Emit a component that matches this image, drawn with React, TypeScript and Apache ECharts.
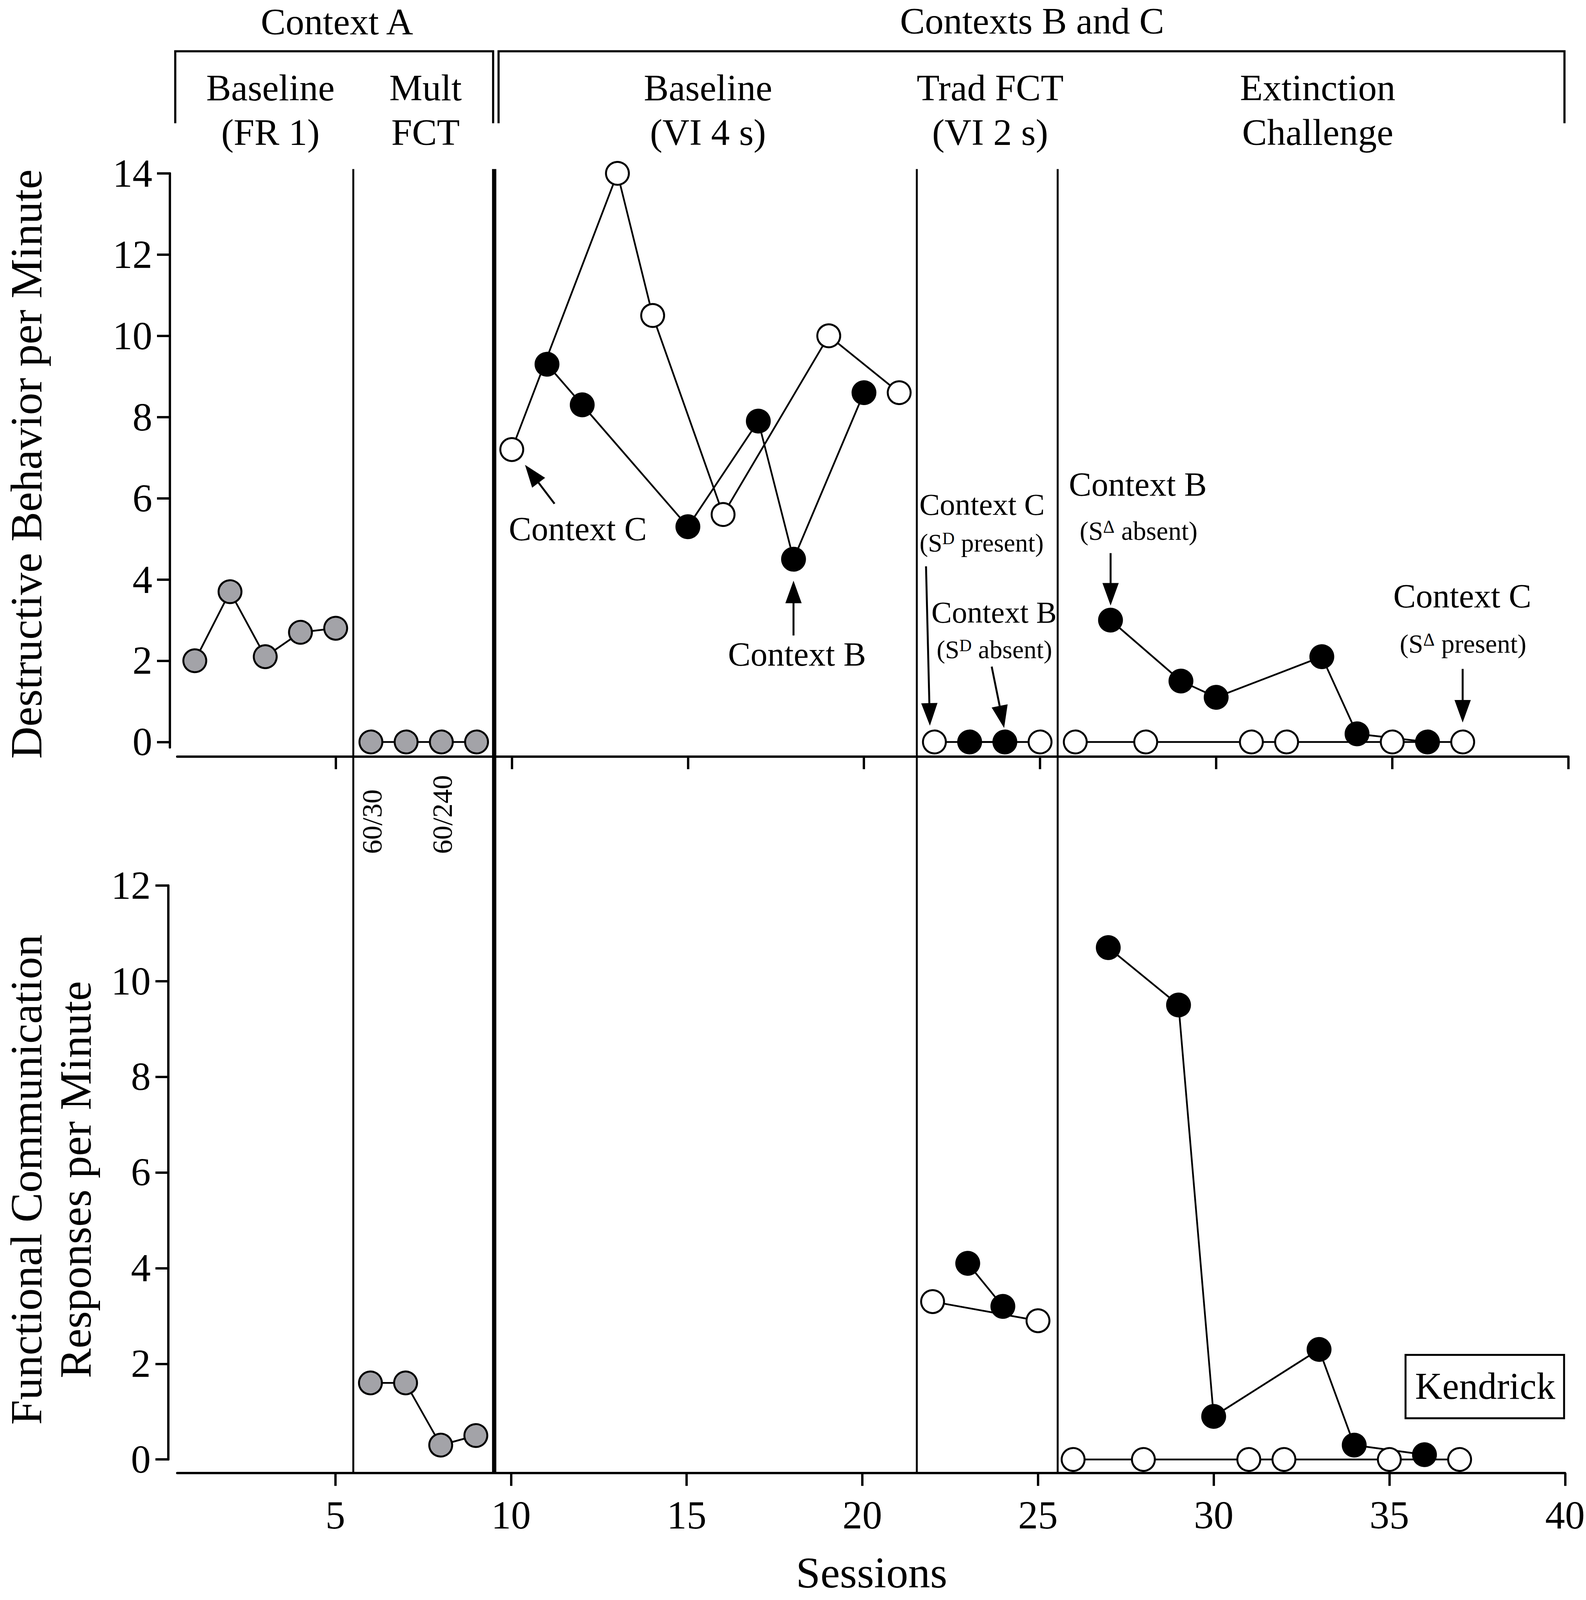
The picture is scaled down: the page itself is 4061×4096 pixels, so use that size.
import React, { useEffect, useRef } from 'react';
import * as echarts from 'echarts';

const K = 0.995;
const FONT = '"Liberation Serif", "Times New Roman", serif';

// ---- Data (sessions and rates per minute) ----
// Context A (gray)
const sessionsA_baseline = [1, 2, 3, 4, 5];
const dbA_baseline = [2.0, 3.7, 2.1, 2.7, 2.8];
const sessionsA_mult = [6, 7, 8, 9];
const dbA_mult = [0, 0, 0, 0];
const fcrA_mult = [1.6, 1.6, 0.3, 0.5];

// Context B (filled)
const sessionsB_baseline = [11, 12, 15, 17, 18, 20];
const dbB_baseline = [9.3, 8.3, 5.3, 7.9, 4.5, 8.6];
const sessionsB_trad = [23, 24];
const dbB_trad = [0, 0];
const fcrB_trad = [4.1, 3.2];
const sessionsB_ext = [27, 29, 30, 33, 34, 36];
const dbB_ext = [3.0, 1.5, 1.1, 2.1, 0.2, 0.0];
const fcrB_ext = [10.7, 9.5, 0.9, 2.3, 0.3, 0.1];

// Context C (open)
const sessionsC_baseline = [10, 13, 14, 16, 19, 21];
const dbC_baseline = [7.2, 14.0, 10.5, 5.6, 10.0, 8.6];
const sessionsC_trad = [22, 25];
const dbC_trad = [0, 0];
const fcrC_trad = [3.3, 2.9];
const sessionsC_ext = [26, 28, 31, 32, 35, 37];
const dbC_ext = [0, 0, 0, 0, 0, 0];
const fcrC_ext = [0, 0, 0, 0, 0, 0];

const xTickValues = [5, 10, 15, 20, 25, 30, 35, 40];
const dbTickValues = [0, 2, 4, 6, 8, 10, 12, 14];
const fcrTickValues = [0, 2, 4, 6, 8, 10, 12];
const phaseChanges = [5.5, 9.5, 21.5, 25.5];
const thickPhase = 9.5;

const GRAY = '#a3a3a8';
const s = (v: number) => v * K;

const zip = (xs: number[], ys: number[]) => xs.map((x, i) => [x, ys[i]]);

function seg(grid: number, xs: number[], ys: number[], fill: string, z: number) {
  return {
    type: 'line',
    xAxisIndex: grid,
    yAxisIndex: grid,
    data: zip(xs, ys),
    symbol: 'circle',
    symbolSize: s(59),
    showAllSymbol: true,
    itemStyle: { color: fill, borderColor: '#000', borderWidth: s(5) },
    lineStyle: { color: '#000', width: s(4.5) },
    z,
    clip: false,
    silent: true,
    animation: false,
  };
}

function xAxis(grid: number, offset: number, labels: boolean) {
  return {
    gridIndex: grid,
    type: 'value',
    min: 0.5,
    max: 40,
    offset: s(offset),
    axisLine: { show: true, onZero: false, lineStyle: { color: '#000', width: s(6) } },
    axisTick: { show: true, customValues: xTickValues, length: s(33), lineStyle: { color: '#000', width: s(6) } },
    axisLabel: labels
      ? { show: true, customValues: xTickValues, fontSize: s(102), fontFamily: FONT, color: '#000', margin: s(58) }
      : { show: false },
    splitLine: { show: false },
  };
}

function yAxis(grid: number, min: number, max: number, ticks: number[], offset: number) {
  return {
    gridIndex: grid,
    type: 'value',
    min,
    max,
    offset: s(offset),
    axisLine: { show: true, onZero: false, lineStyle: { color: '#000', width: s(6) } },
    axisTick: { show: true, customValues: ticks, length: s(33), lineStyle: { color: '#000', width: s(6) } },
    axisLabel: { show: true, customValues: ticks, fontSize: s(102), fontFamily: FONT, color: '#000', margin: s(45) },
    splitLine: { show: false },
  };
}

function buildOption() {
  return {
    animation: false,
    backgroundColor: '#fff',
    grid: [
      { left: s(456), top: s(446), width: s(3580), height: s(1477) },
      { left: s(456), top: s(2278), width: s(3580), height: s(1477) },
    ],
    xAxis: [xAxis(0, 23, false), xAxis(1, 35, true)],
    yAxis: [yAxis(0, -0.134, 14, dbTickValues, 19), yAxis(1, 0, 12, fcrTickValues, 23)],
    series: [
      seg(0, sessionsA_baseline, dbA_baseline, GRAY, 3),
      seg(0, sessionsA_mult, dbA_mult, GRAY, 3),
      seg(0, sessionsB_baseline, dbB_baseline, '#000', 4),
      seg(0, sessionsB_trad, dbB_trad, '#000', 4),
      seg(0, sessionsB_ext, dbB_ext, '#000', 4),
      seg(0, sessionsC_baseline, dbC_baseline, '#fff', 5),
      seg(0, sessionsC_trad, dbC_trad, '#fff', 5),
      seg(0, sessionsC_ext, dbC_ext, '#fff', 5),
      seg(1, sessionsA_mult, fcrA_mult, GRAY, 3),
      seg(1, sessionsB_trad, fcrB_trad, '#000', 4),
      seg(1, sessionsB_ext, fcrB_ext, '#000', 4),
      seg(1, sessionsC_trad, fcrC_trad, '#fff', 5),
      seg(1, sessionsC_ext, fcrC_ext, '#fff', 5),
    ],
  };
}

function lineEl(x1: number, y1: number, x2: number, y2: number, w: number) {
  return { type: 'line', silent: true, z: 1, shape: { x1, y1, x2, y2 }, style: { stroke: '#000', lineWidth: w } };
}

function txt(text: string, x: number, y: number, size: number, extra: any = {}, rotation = 0) {
  return {
    type: 'text',
    x: s(x),
    y: s(y),
    rotation,
    silent: true,
    z: 10,
    style: { text, fontSize: s(size), fontFamily: FONT, fill: '#000', align: 'center', verticalAlign: 'middle', ...extra },
  };
}

function supTxt(main: string, sup: string, rest: string, x: number, y: number, size: number, supSize: number) {
  return {
    type: 'text',
    x: s(x),
    y: s(y),
    silent: true,
    z: 10,
    style: {
      text: `{n|${main}}{sup|${sup}}{n|${rest}}`,
      align: 'center',
      verticalAlign: 'middle',
      rich: {
        n: { fontSize: s(size), fontFamily: FONT, fill: '#000' },
        sup: { fontSize: s(supSize), fontFamily: FONT, fill: '#000', verticalAlign: 'top' },
      },
    },
  };
}

function arrow(tx: number, ty: number, hx: number, hy: number) {
  const x1 = s(tx), y1 = s(ty), x2 = s(hx), y2 = s(hy);
  const dx = x2 - x1, dy = y2 - y1;
  const len = Math.hypot(dx, dy);
  const ux = dx / len, uy = dy / len;
  const L = s(58), W = s(21);
  const bx = x2 - ux * L, by = y2 - uy * L;
  return [
    lineEl(x1, y1, bx + ux * 4, by + uy * 4, s(5)),
    {
      type: 'polygon',
      silent: true,
      z: 10,
      shape: { points: [[x2, y2], [bx - uy * W, by + ux * W], [bx + uy * W, by - ux * W]] },
      style: { fill: '#000' },
    },
  ];
}

function buildGraphics(chart: any) {
  const els: any[] = [];
  // phase change lines
  phaseChanges.forEach((p) => {
    const x = chart.convertToPixel({ gridIndex: 0 }, [p, 0])[0];
    els.push(lineEl(x, s(435), x, s(3793), p === thickPhase ? s(11) : s(5)));
  });
  // brackets
  els.push({
    type: 'polyline', silent: true,
    shape: { points: [[s(451), s(317)], [s(451), s(132)], [s(1269), s(132)], [s(1269), s(317)]] },
    style: { stroke: '#000', lineWidth: s(5.5), fill: null },
  });
  els.push({
    type: 'polyline', silent: true,
    shape: { points: [[s(1283), s(317)], [s(1283), s(132)], [s(4026), s(132)], [s(4026), s(317)]] },
    style: { stroke: '#000', lineWidth: s(5.5), fill: null },
  });
  // top labels
  els.push(txt('Context A', 867, 56, 96));
  els.push(txt('Contexts B and C', 2656, 54, 96));
  els.push(txt('Baseline', 696, 226, 96));
  els.push(txt('(FR 1)', 696, 341, 96));
  els.push(txt('Mult', 1095, 226, 96));
  els.push(txt('FCT', 1095, 341, 96));
  els.push(txt('Baseline', 1822, 226, 96));
  els.push(txt('(VI 4 s)', 1822, 341, 96));
  els.push(txt('Trad FCT', 2548, 226, 96));
  els.push(txt('(VI 2 s)', 2548, 341, 96));
  els.push(txt('Extinction', 3391, 226, 96));
  els.push(txt('Challenge', 3391, 341, 96));

  // axis titles
  els.push(txt('Destructive Behavior per Minute', 68, 1194, 115, {}, Math.PI / 2));
  els.push(txt('Functional Communication', 68, 3035, 115, {}, Math.PI / 2));
  els.push(txt('Responses per Minute', 194, 3035, 115, {}, Math.PI / 2));
  els.push(txt('Sessions', 2243, 4046, 113));

  // schedule notes
  els.push(txt('60/30', 957, 2197, 73, { align: 'left' }, Math.PI / 2));
  els.push(txt('60/240', 1138, 2197, 73, { align: 'left' }, Math.PI / 2));

  // annotations
  els.push(txt('Context C', 1487, 1361, 87));
  els.push(...arrow(1427, 1296, 1351, 1196));
  els.push(txt('Context B', 2051, 1683, 87));
  els.push(...arrow(2042, 1635, 2042, 1494));

  els.push(txt('Context C', 2527, 1298, 79));
  els.push(supTxt('(S', 'D', ' present)', 2526, 1396, 66, 44));
  els.push(...arrow(2383, 1457, 2393, 1867));

  els.push(txt('Context B', 2558, 1575, 79));
  els.push(supTxt('(S', 'D', ' absent)', 2559, 1671, 66, 44));
  els.push(...arrow(2552, 1715, 2584, 1873));

  els.push(txt('Context B', 2928, 1246, 87));
  els.push(supTxt('(S', 'Δ', ' absent)', 2930, 1366, 68, 46));
  els.push(...arrow(2858, 1423, 2858, 1558));

  els.push(txt('Context C', 3763, 1534, 87));
  els.push(supTxt('(S', 'Δ', ' present)', 3765, 1657, 68, 46));
  els.push(...arrow(3764, 1721, 3764, 1859));

  // participant box
  els.push({
    type: 'rect', silent: true, z: 9,
    shape: { x: s(3617), y: s(3486), width: s(408), height: s(163) },
    style: { stroke: '#000', lineWidth: s(5), fill: '#fff' },
  });
  els.push(txt('Kendrick', 3822, 3566, 97));
  return els;
}

export default function App() {
  const ref = useRef<HTMLDivElement>(null);
  useEffect(() => {
    const el = ref.current as HTMLDivElement;
    const chart = echarts.init(el, null, { renderer: 'svg' });
    chart.setOption(buildOption() as any);
    chart.setOption({ graphic: { elements: buildGraphics(chart) } } as any);
    return () => chart.dispose();
  }, []);
  return (
    <div
      ref={ref}
      style={{ position: 'absolute', left: 0, top: 0, width: 4061, height: 4096, background: '#fff' }}
    />
  );
}
